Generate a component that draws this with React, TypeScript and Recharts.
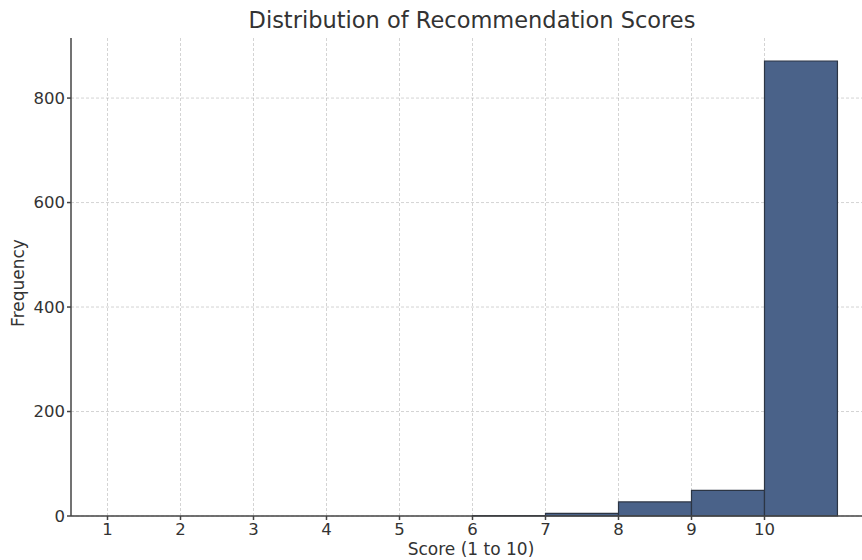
import { Bar, BarChart, CartesianGrid, XAxis, YAxis } from "recharts";

// histogram bins (left edges) and counts
const binStarts = [1, 2, 3, 4, 5, 6, 7, 8, 9, 10];
const counts = [0, 0, 0, 0, 0, 1, 5, 27, 49, 871];
const xTicks = [1, 2, 3, 4, 5, 6, 7, 8, 9, 10];
const yTicks = [0, 200, 400, 600, 800];

const data = binStarts.map((start, i) => ({ mid: start + 0.5, count: counts[i] }));

const FONT = "'DejaVu Sans', sans-serif";
const TEXT = "#333333";

const CHART_W = 880;
const CHART_H = 560;
const margin = { top: 38, right: 6, bottom: 0, left: 21 };
const Y_AXIS_W = 50;
const X_AXIS_H = 44;
const X_DOMAIN: [number, number] = [0.5, 11.5];
// one bin = one unit on the x scale; keep it a hair under the band
// size, otherwise recharts shrinks the bar to 90%
const plotW = CHART_W - margin.left - margin.right - Y_AXIS_W;
const binWidth = plotW / (X_DOMAIN[1] - X_DOMAIN[0]) - 0.05;

const tickStyle = { fontSize: 16.5, fill: TEXT, fontFamily: FONT };

export default function App() {
  return (
    <div
      style={{
        position: "fixed",
        left: 0,
        top: 0,
        width: 862,
        height: 560,
        overflow: "hidden",
        background: "#fff",
        fontFamily: FONT,
        color: TEXT
      }}
    >
      <BarChart
        width={CHART_W}
        height={CHART_H}
        data={data}
        margin={margin}
        barCategoryGap={0}
        barGap={0}
      >
        <XAxis
          type="number"
          dataKey="mid"
          domain={X_DOMAIN}
          ticks={xTicks}
          allowDataOverflow
          height={X_AXIS_H}
          tickSize={4}
          tickMargin={3}
          stroke="#444"
          strokeWidth={1.5}
          tick={tickStyle}
        />
        <YAxis
          type="number"
          domain={[0, 915]}
          ticks={yTicks}
          width={Y_AXIS_W}
          tickSize={4}
          tickMargin={2}
          stroke="#444"
          strokeWidth={1.5}
          tick={tickStyle}
        />
        <Bar
          dataKey="count"
          barSize={binWidth}
          fill="#4a6289"
          stroke="#2c3544"
          strokeWidth={1.2}
          isAnimationActive={false}
        />
        {/* grid sits on top of the bars, like the original */}
        <CartesianGrid
          horizontalValues={yTicks}
          verticalValues={xTicks}
          strokeDasharray="3 2"
          stroke="rgba(170,170,170,0.5)"
          strokeWidth={1}
        />
      </BarChart>

      <div
        style={{
          position: "absolute",
          left: 472,
          top: 20,
          transform: "translate(-50%, -50%)",
          fontSize: 22.5,
          whiteSpace: "nowrap"
        }}
      >
        Distribution of Recommendation Scores
      </div>
      <div
        style={{
          position: "absolute",
          left: 471,
          top: 549,
          transform: "translate(-50%, -50%)",
          fontSize: 17,
          whiteSpace: "nowrap"
        }}
      >
        Score (1 to 10)
      </div>
      <div
        style={{
          position: "absolute",
          left: 18,
          top: 283,
          transform: "translate(-50%, -50%) rotate(-90deg)",
          fontSize: 17,
          whiteSpace: "nowrap"
        }}
      >
        Frequency
      </div>
    </div>
  );
}
